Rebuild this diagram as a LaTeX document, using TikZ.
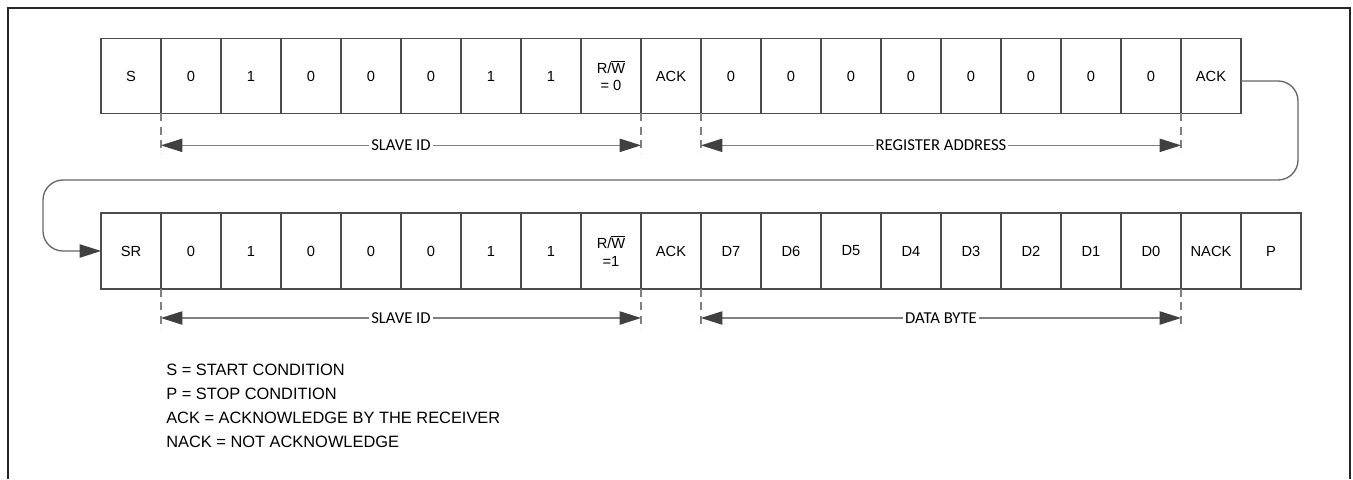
\documentclass[tikz,border=0pt]{standalone}
\usepackage{fontspec}
\setmainfont{Liberation Sans}
\newfontfamily\dimfont{Carlito}
\usetikzlibrary{arrows.meta,calc}

\begin{document}
\begin{tikzpicture}[
  x=0.75pt, y=-0.75pt, font=\fontsize{11}{13}\selectfont,
  cell/.style={draw=black!70, line width=0.8pt, minimum width=45pt, minimum height=#1, inner sep=0pt, outer sep=0pt, align=center},
  cell/.default=56pt,
  dimline/.style={draw=black!50, line width=0.9pt, {Triangle[length=16pt,width=10pt,color=black!75]}-{Triangle[length=16pt,width=10pt,color=black!75]}},
  dimtick/.style={draw=black!50, line width=0.9pt, dash pattern=on 6pt off 4pt},
  dimlbl/.style={fill=white, inner sep=1.5pt, font=\dimfont\fontsize{12.5}{14}\selectfont},
  loopline/.style={draw=black!60, line width=1pt, rounded corners=15pt, -{Triangle[length=16pt,width=10pt,color=black!75]}},
]
\useasboundingbox (0,0) rectangle (1353,479);
\draw[line width=1.2pt, black!85] (8,479) -- (8,8) -- (1350,8) -- (1350,479);

% first frame: write slave id, register address
\foreach \t [count=\i from 0] in {S,0,1,0,0,0,1,1,{R/$\overline{\hbox{W}}$\\= 0},ACK,0,0,0,0,0,0,0,0,ACK}
  \node[cell] (a\i) at ({131+60*\i},76) {\t};

% second frame: repeated start, read one byte
\foreach \t [count=\i from 0] in {SR,0,1,0,0,0,1,1,{R/$\overline{\hbox{W}}$\\=1},ACK,D7,D6,D5,D4,D3,D2,D1,D0,NACK,P}
  \node[cell=57pt] (b\i) at ({131+60*\i},251) {\t};

\foreach \n in {a1,a9,a10,a18,b1,b9,b10,b18}
  \draw[dimtick] (\n.south west) -- ++(0,40);

\coordinate (ida1) at ($(a1.south west)+(0,32)$);
\coordinate (ida2) at ($(a9.south west)+(0,32)$);
\coordinate (reg1) at ($(a10.south west)+(0,32)$);
\coordinate (reg2) at ($(a18.south west)+(0,32)$);
\coordinate (idb1) at ($(b1.south west)+(0,29)$);
\coordinate (idb2) at ($(b9.south west)+(0,29)$);
\coordinate (dat1) at ($(b10.south west)+(0,29)$);
\coordinate (dat2) at ($(b18.south west)+(0,29)$);

\draw[dimline] (ida1) -- node[dimlbl] {SLAVE ID} (ida2);
\draw[dimline] (reg1) -- node[dimlbl] {REGISTER ADDRESS} (reg2);
\draw[dimline] (idb1) -- node[dimlbl] {SLAVE ID} (idb2);
\draw[dimline] (dat1) -- node[dimlbl] {DATA BYTE} (dat2);

% wrap from first frame into second
\coordinate (turnR) at (1298,180);
\coordinate (turnL) at (43,180);
\draw[loopline] ($(a18.east)+(0,5)$) -| (turnR) -- (turnL) |- (b0.west);

\node[anchor=north west, align=left, inner sep=0pt, font=\fontsize{12.3}{18}\selectfont] (legend) at (166,364)
  {S = START CONDITION\\
   P = STOP CONDITION\\
   ACK = ACKNOWLEDGE BY THE RECEIVER\\
   NACK = NOT ACKNOWLEDGE};
\end{tikzpicture}
\end{document}
